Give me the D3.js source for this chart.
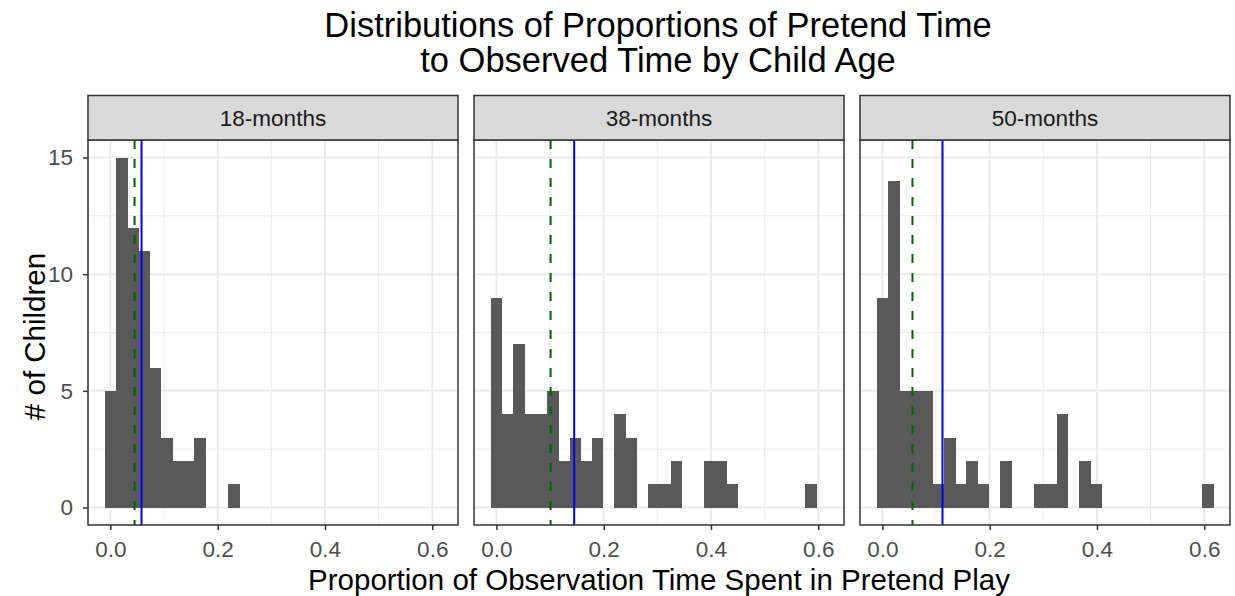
<!DOCTYPE html>
<html>
<head>
<meta charset="utf-8">
<script src="https://cdn.jsdelivr.net/npm/d3@7"></script>
<style>
  html, body { margin: 0; padding: 0; background: #ffffff; }
  svg { display: block; font-family: "Liberation Sans", Arial, sans-serif; }
</style>
</head>
<body>
<svg id="chart" width="1235" height="596"></svg>
<script>
// Histogram bins shared by every panel (bin centres, proportion of time)
const binCenters = [0.000, 0.021, 0.042, 0.063, 0.084, 0.105, 0.126, 0.147, 0.167, 0.188,
                    0.209, 0.230, 0.251, 0.272, 0.293, 0.314, 0.335, 0.356, 0.377, 0.398,
                    0.419, 0.440, 0.460, 0.481, 0.502, 0.523, 0.544, 0.565, 0.586, 0.607];
const binWidth = 0.0209;

// Panel labels
const ageGroups = ["18-months", "38-months", "50-months"];

// Number of children per bin, one array per age group
const counts18 = [5, 15, 12, 11, 6, 3, 2, 2, 3, 0, 0, 1, 0, 0, 0, 0, 0, 0, 0, 0, 0, 0, 0, 0, 0, 0, 0, 0, 0, 0];
const counts38 = [9, 4, 7, 4, 4, 5, 2, 3, 2, 3, 0, 4, 3, 0, 1, 1, 2, 0, 0, 2, 2, 1, 0, 0, 0, 0, 0, 0, 1, 0];
const counts50 = [9, 14, 5, 5, 5, 1, 3, 1, 2, 1, 0, 2, 0, 0, 1, 1, 4, 0, 2, 1, 0, 0, 0, 0, 0, 0, 0, 0, 0, 1];

// Reference lines per age group: median (dashed green) and mean (solid blue)
const medians = [0.045, 0.101, 0.056];
const means   = [0.058, 0.145, 0.112];

// Axis ticks
const xTicks = [0.0, 0.2, 0.4, 0.6];
const xMinor = [0.1, 0.3, 0.5];
const yTicks = [0, 5, 10, 15];
const yMinor = [2.5, 7.5, 12.5];

const title = ["Distributions of Proportions of Pretend Time", "to Observed Time by Child Age"];
const xTitle = "Proportion of Observation Time Spent in Pretend Play";
const yTitle = "# of Children";

const countsByAge = [counts18, counts38, counts50];

// Layout
const panelLeft = 88, panelW = 370, panelGap = 16;
const stripTop = 95.5, stripBottom = 140, plotBottom = 525;
const plotH = plotBottom - stripBottom;
const tickFont = 22.5, stripFont = 22.5, axisTitleFont = 29.5, titleFont = 34.5;

const svg = d3.select("#chart");

const x = d3.scaleLinear().domain([-0.0418, 0.648]).range([0, panelW]);
const y = d3.scaleLinear().domain([-0.75, 15.75]).range([plotH, 0]);

ageGroups.forEach((age, i) => {
  const px = panelLeft + i * (panelW + panelGap);
  const g = svg.append("g").attr("transform", `translate(${px},${stripBottom})`);

  // background grid
  g.selectAll(".gxm").data(xMinor).join("line")
    .attr("x1", d => x(d)).attr("x2", d => x(d))
    .attr("y1", 0).attr("y2", plotH)
    .attr("stroke", "#ebebeb").attr("stroke-width", 1);
  g.selectAll(".gym").data(yMinor).join("line")
    .attr("x1", 0).attr("x2", panelW)
    .attr("y1", d => y(d)).attr("y2", d => y(d))
    .attr("stroke", "#ebebeb").attr("stroke-width", 1);
  g.selectAll(".gx").data(xTicks).join("line")
    .attr("x1", d => x(d)).attr("x2", d => x(d))
    .attr("y1", 0).attr("y2", plotH)
    .attr("stroke", "#ebebeb").attr("stroke-width", 2);
  g.selectAll(".gy").data(yTicks).join("line")
    .attr("x1", 0).attr("x2", panelW)
    .attr("y1", d => y(d)).attr("y2", d => y(d))
    .attr("stroke", "#ebebeb").attr("stroke-width", 2);

  // histogram bars
  const bins = countsByAge[i]
    .map((c, k) => ({ center: binCenters[k], count: c }))
    .filter(d => d.count > 0);
  g.selectAll("rect.bar").data(bins).join("rect")
    .attr("class", "bar")
    .attr("x", d => x(d.center - binWidth / 2))
    .attr("width", d => x(d.center + binWidth / 2) - x(d.center - binWidth / 2) + 0.4)
    .attr("y", d => y(d.count))
    .attr("height", d => y(0) - y(d.count))
    .attr("fill", "#595959")
    .attr("shape-rendering", "crispEdges");

  // median and mean lines
  g.append("line")
    .attr("x1", x(medians[i])).attr("x2", x(medians[i]))
    .attr("y1", 0).attr("y2", plotH)
    .attr("stroke", "#006400").attr("stroke-width", 2)
    .attr("stroke-dasharray", "9,10");
  g.append("line")
    .attr("x1", x(means[i])).attr("x2", x(means[i]))
    .attr("y1", 0).attr("y2", plotH)
    .attr("stroke", "#0000ff").attr("stroke-width", 2);

  // panel border
  g.append("rect")
    .attr("x", 0).attr("y", 0).attr("width", panelW).attr("height", plotH)
    .attr("fill", "none").attr("stroke", "#333333").attr("stroke-width", 1.5);

  // facet strip
  svg.append("rect")
    .attr("x", px).attr("y", stripTop)
    .attr("width", panelW).attr("height", stripBottom - stripTop)
    .attr("fill", "#d9d9d9").attr("stroke", "#333333").attr("stroke-width", 1.5);
  svg.append("text")
    .attr("x", px + panelW / 2).attr("y", (stripTop + stripBottom) / 2 + 8.5)
    .attr("text-anchor", "middle")
    .attr("font-size", stripFont).attr("fill", "#1a1a1a")
    .text(age);

  // x axis
  const xa = g.append("g").attr("transform", `translate(0,${plotH})`)
    .call(d3.axisBottom(x).tickValues(xTicks).tickFormat(d3.format(".1f")).tickSize(5).tickPadding(11));
  xa.select(".domain").remove();
  xa.selectAll(".tick line").attr("stroke", "#333333").attr("stroke-width", 1.5);
  xa.selectAll(".tick text").attr("font-size", tickFont).attr("fill", "#4d4d4d")
    .attr("font-family", "Liberation Sans, Arial, sans-serif");

  // y axis on the first panel only
  if (i === 0) {
    const ya = g.append("g")
      .call(d3.axisLeft(y).tickValues(yTicks).tickSize(5).tickPadding(10));
    ya.select(".domain").remove();
    ya.selectAll(".tick line").attr("stroke", "#333333").attr("stroke-width", 1.5);
    ya.selectAll(".tick text").attr("font-size", tickFont).attr("fill", "#4d4d4d")
      .attr("font-family", "Liberation Sans, Arial, sans-serif");
  }
});

// titles
const centerX = panelLeft + (3 * panelW + 2 * panelGap) / 2;
svg.append("text")
  .attr("text-anchor", "middle").attr("font-size", titleFont).attr("fill", "#000")
  .selectAll("tspan").data(title).join("tspan")
  .attr("x", centerX - 1).attr("y", (d, k) => 37 + k * 35)
  .text(d => d);

svg.append("text")
  .attr("x", centerX).attr("y", 590)
  .attr("text-anchor", "middle").attr("font-size", axisTitleFont).attr("fill", "#000")
  .text(xTitle);

svg.append("text")
  .attr("transform", `translate(45,${(stripBottom + plotBottom) / 2 + 4}) rotate(-90)`)
  .attr("text-anchor", "middle").attr("font-size", axisTitleFont).attr("fill", "#000")
  .text(yTitle);
</script>
</body>
</html>
